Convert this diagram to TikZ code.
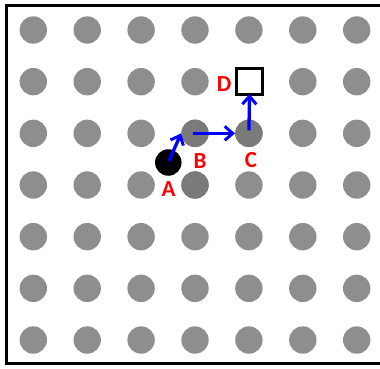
\documentclass[tikz,border=0pt]{standalone}
\usepackage{fontspec}
\setmainfont{Carlito}
\usetikzlibrary{arrows.meta}
\definecolor{dotgray}{HTML}{8E8E8E}
\definecolor{darkdot}{HTML}{7A7A7A}
\definecolor{lblred}{HTML}{FF0000}
\definecolor{arrblue}{HTML}{0000FF}
\tikzset{
  dot/.style={circle,fill=dotgray,minimum size=27.4pt,inner sep=0pt},
  dkdot/.style={circle,fill=darkdot,minimum size=27.4pt,inner sep=0pt},
  blackdot/.style={circle,fill=black,minimum size=26.5pt,inner sep=0pt},
  target/.style={draw=black,line width=3pt,fill=white,minimum size=26pt,inner sep=0pt},
  lbl/.style={text=lblred,font=\fontsize{23}{23}\selectfont\bfseries,inner sep=0pt},
  arr/.style={draw=arrblue,line width=3.3pt,-{Straight Barb[length=8pt,width=14pt,line width=3pt]}},
}
\begin{document}
\begin{tikzpicture}[x=1pt,y=-1pt]
\useasboundingbox (0,0) rectangle (380,368);
\draw[line width=3pt] (6.5,5.5) rectangle (390,363.5);
\foreach \i in {1,...,7}{
  \foreach \j in {1,...,7}{
    \node[dot] (d\i\j) at ({33.3+53.9*(\i-1)},{30+51.67*(\j-1)}) {};
  }
}
% darker dots
\node[dkdot] (B) at (d43) {};
\node[dkdot] (C) at (d53) {};
\node[dkdot] (E) at (d44) {};
\node[blackdot] (A) at (168.3,162.5) {};
\node[target] (D) at (249.5,81.5) {};
% labels
\node[lbl] (la) at (168.5,189.5) {A};
\node[lbl] (lb) at (200,160.8) {B};
\node[lbl] (lc) at (251,160.5) {C};
\node[lbl] (ld) at (224,84) {D};
% arrows
\draw[arr,shorten <=2pt] (A.center) -- (B.west);
\draw[arr,shorten <=-2pt] (B.center) -- (C.west);
\draw[arr,shorten <=3pt,shorten >=-2pt] (C.center) -- (D.south);
\end{tikzpicture}
\end{document}
